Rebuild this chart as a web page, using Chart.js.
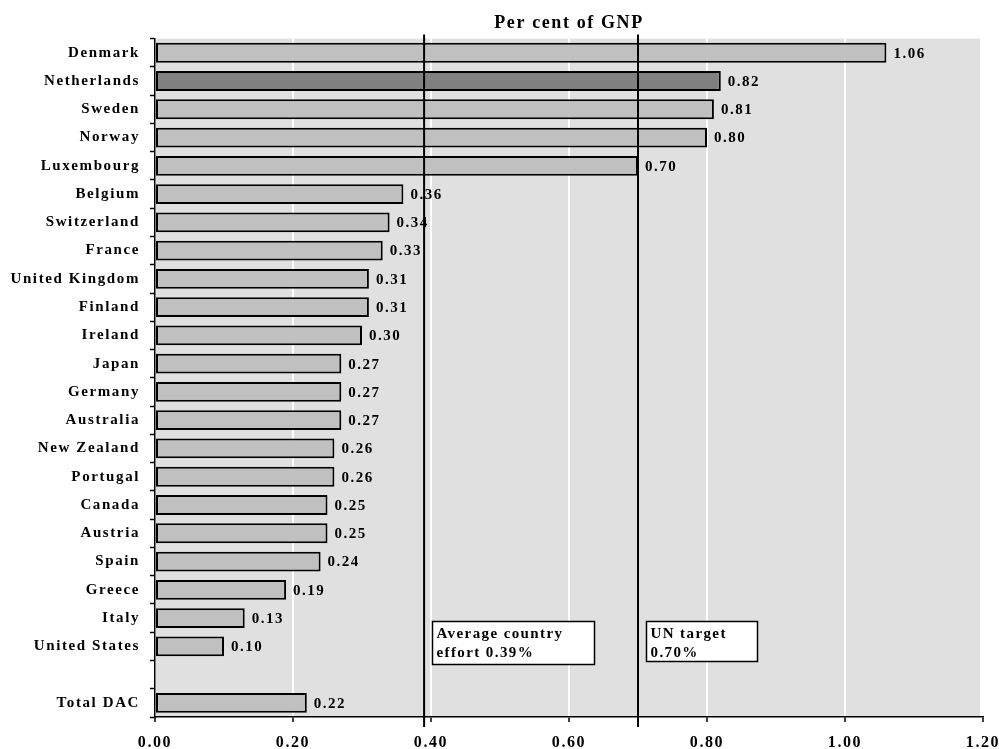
<!DOCTYPE html>
<html>
<head>
<meta charset="utf-8">
<script src="https://cdn.jsdelivr.net/npm/chart.js@4"></script>
<style>
  html, body { margin: 0; padding: 0; background: #ffffff; }
  #wrap { width: 999px; height: 749px; }
</style>
</head>
<body>
<div id="wrap"><canvas id="chart" width="999" height="749"></canvas></div>
<script>
// ODA as a share of GNP, by DAC member
const countries = [
  'Denmark', 'Netherlands', 'Sweden', 'Norway', 'Luxembourg', 'Belgium',
  'Switzerland', 'France', 'United Kingdom', 'Finland', 'Ireland', 'Japan',
  'Germany', 'Australia', 'New Zealand', 'Portugal', 'Canada', 'Austria',
  'Spain', 'Greece', 'Italy', 'United States', '', 'Total DAC'
];
const shareOfGnp = [
  1.06, 0.82, 0.81, 0.80, 0.70, 0.36,
  0.34, 0.33, 0.31, 0.31, 0.30, 0.27,
  0.27, 0.27, 0.26, 0.26, 0.25, 0.25,
  0.24, 0.19, 0.13, 0.10, null, 0.22
];
const highlighted = ['Netherlands'];
const xTicks = [0, 0.2, 0.4, 0.6, 0.8, 1.0, 1.2];
const referenceLines = [
  { value: 0.39, lines: ['Average country', 'effort 0.39%'], boxWidth: 162, boxHeight: 43 },
  { value: 0.70, lines: ['UN target', '0.70%'], boxWidth: 111, boxHeight: 40 }
];
const chartTitle = 'Per cent of GNP';

const FONT = "'Liberation Serif', 'Times New Roman', serif";

// plot background and letter spacing for library-drawn text
const plotBackground = {
  id: 'plotBackground',
  beforeDraw(chart) {
    const { ctx, chartArea: a } = chart;
    ctx.save();
    ctx.fillStyle = '#e0e0e0';
    ctx.fillRect(a.left, a.top, a.right - a.left - 3, a.bottom - a.top);
    ctx.restore();
    ctx.letterSpacing = '1.6px';
  }
};

// value labels at the end of each bar
const valueLabels = {
  id: 'valueLabels',
  afterDatasetsDraw(chart) {
    const { ctx } = chart;
    const meta = chart.getDatasetMeta(0);
    ctx.save();
    ctx.letterSpacing = '1.5px';
    ctx.font = 'bold 15px ' + FONT;
    ctx.fillStyle = '#000';
    ctx.textAlign = 'left';
    ctx.textBaseline = 'middle';
    meta.data.forEach((bar, i) => {
      const v = shareOfGnp[i];
      if (v === null || v === undefined) return;
      ctx.fillText(v.toFixed(2), bar.x + 7, bar.y + 1);
    });
    ctx.restore();
  }
};

// reference lines with their captions
const referenceMarks = {
  id: 'referenceMarks',
  afterDatasetsDraw(chart) {
    const { ctx, chartArea: a } = chart;
    const xs = chart.scales.x;
    ctx.save();
    referenceLines.forEach(ref => {
      const x = xs.getPixelForValue(ref.value);
      ctx.strokeStyle = '#000';
      ctx.lineWidth = 2;
      ctx.beginPath();
      ctx.moveTo(x, a.top - 4);
      ctx.lineTo(x, a.bottom + 10);
      ctx.stroke();

      const bx = Math.round(x + 8) + 0.5;
      const by = Math.round(a.bottom - 96) + 0.5;
      ctx.fillStyle = '#ffffff';
      ctx.fillRect(bx, by, ref.boxWidth, ref.boxHeight);
      ctx.lineWidth = 1.5;
      ctx.strokeRect(bx, by, ref.boxWidth, ref.boxHeight);

      ctx.fillStyle = '#000';
      ctx.font = 'bold 15px ' + FONT;
      ctx.letterSpacing = '1.4px';
      ctx.textAlign = 'left';
      ctx.textBaseline = 'alphabetic';
      ref.lines.forEach((t, k) => {
        ctx.fillText(t, bx + 4, by + 16 + k * 19);
      });
    });
    ctx.restore();
  }
};

new Chart(document.getElementById('chart'), {
  type: 'bar',
  data: {
    labels: countries,
    datasets: [{
      data: shareOfGnp,
      backgroundColor: countries.map(c => highlighted.includes(c) ? '#808080' : '#c0c0c0'),
      borderColor: '#000000',
      borderWidth: 2,
      borderSkipped: false,
      barPercentage: 0.7,
      categoryPercentage: 1.0
    }]
  },
  options: {
    indexAxis: 'y',
    responsive: false,
    animation: false,
    devicePixelRatio: 1,
    layout: { padding: { left: 0, right: 16, top: 0, bottom: 0 } },
    plugins: {
      legend: { display: false },
      tooltip: { enabled: false },
      title: {
        display: true,
        text: chartTitle,
        fullSize: false,
        color: '#000',
        font: { family: FONT, size: 18, weight: 'bold' },
        padding: { top: 13, bottom: 4 }
      }
    },
    scales: {
      x: {
        type: 'linear',
        min: 0,
        max: 1.2,
        afterBuildTicks(scale) {
          scale.ticks = xTicks.map(v => ({ value: v }));
        },
        afterFit(scale) {
          scale.height = 32;
          scale.paddingLeft = 0;
          scale.paddingRight = 0;
        },
        ticks: {
          color: '#000',
          font: { family: FONT, size: 16, weight: 'bold' },
          padding: 11,
          maxRotation: 0,
          callback: v => Number(v).toFixed(2)
        },
        grid: {
          color: '#ffffff',
          lineWidth: 2,
          drawTicks: true,
          tickLength: 5,
          tickColor: '#000',
          tickWidth: 1.5
        },
        border: { display: true, color: '#000', width: 1.5 }
      },
      y: {
        type: 'category',
        afterFit(scale) { scale.width = 155; },
        ticks: {
          color: '#000',
          autoSkip: false,
          font: { family: FONT, size: 15, weight: 'bold' },
          padding: 10
        },
        grid: {
          display: true,
          drawOnChartArea: false,
          drawTicks: true,
          tickLength: 5,
          tickColor: '#000',
          tickWidth: 1.5,
          offset: true
        },
        border: { display: true, color: '#000', width: 1.5 }
      }
    }
  },
  plugins: [plotBackground, valueLabels, referenceMarks]
});
</script>
</body>
</html>
